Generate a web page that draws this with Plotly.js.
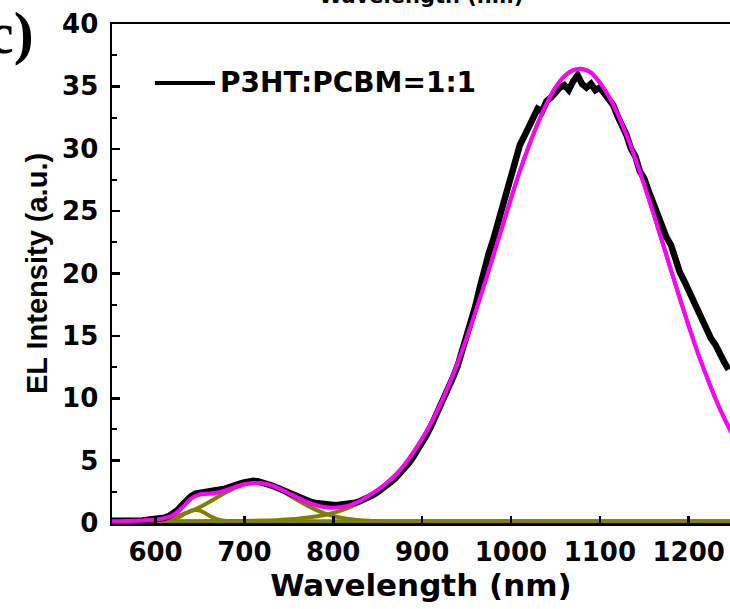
<!DOCTYPE html>
<html><head><meta charset="utf-8">
<script src="https://cdn.plot.ly/plotly-3.0.1.min.js"></script>
<style>html,body{margin:0;padding:0;background:#fff;overflow:hidden}</style>
</head><body><div id="chart" style="width:730px;height:609px"></div>
<script>
// Experimental EL spectrum (black), 5 nm steps
const wlExp = [];
for (let w = 550; w <= 1245; w += 5) wlExp.push(w);
const elExp = [0.18,0.16,0.17,0.15,0.18,0.17,0.19,0.2,0.22,0.24,
0.28,0.33,0.42,0.55,0.75,1.05,1.45,1.85,2.15,2.35,
2.4,2.42,2.45,2.5,2.58,2.7,2.8,2.95,3.05,3.15,
3.25,3.33,3.38,3.35,3.27,3.15,3.02,2.88,2.72,2.54,
2.36,2.2,2.04,1.9,1.78,1.68,1.6,1.53,1.48,1.45,
1.44,1.45,1.47,1.5,1.55,1.63,1.74,1.88,2.05,2.25,
2.48,2.72,2.98,3.28,3.6,3.95,4.35,4.8,5.3,5.85,
6.42,7.05,7.75,8.5,9.2,10.0,10.9,11.7,12.6,13.7,
14.8,16.0,17.4,18.9,20.4,21.6,22.7,24.0,25.2,26.7,
27.9,29.3,30.3,31.0,31.8,32.7,33.2,33.0,33.8,34.1,
34.6,34.9,35.1,34.7,35.4,35.9,35.2,34.9,35.2,34.7,
34.9,34.4,33.8,33.5,32.6,31.9,31.1,30.0,29.4,28.2,
27.6,26.6,25.7,24.5,23.9,22.9,22.3,21.0,20.1,19.4,
18.6,17.8,17.1,16.3,15.6,14.8,14.3,13.5,12.9,12.3];

// Cumulative fit (magenta), 10 nm steps
const wlFit = [];
for (let w = 550; w <= 1250; w += 10) wlFit.push(w);
const elFit = [0.15,0.15,0.17,0.18,0.22,0.27,0.39,0.65,1.22,1.95,
2.30,2.35,2.45,2.65,2.90,3.10,3.20,3.18,3.03,2.74,
2.39,2.03,1.70,1.44,1.28,1.23,1.29,1.46,1.76,2.20,
2.65,3.20,3.85,4.65,5.65,6.75,8.00,9.45,11.05,12.85,
14.8,16.9,19.1,21.4,23.7,26.0,28.2,30.2,32.0,33.6,
34.9,35.8,36.3,36.4,36.1,35.3,34.2,32.8,31.1,29.2,
27.1,24.9,22.6,20.3,18.0,15.8,13.7,11.8,10.0,8.4,
7.0];

// Gaussian components (olive)
const wlPk1 = [550,600,610,615,620,625,630,635,640,645,650,655,660,665,670,675,680,690,700,1250];
const elPk1 = [0.15,0.15,0.17,0.21,0.29,0.43,0.61,0.82,0.99,1.05,0.99,0.82,0.61,0.43,0.29,0.21,0.17,0.15,0.15,0.15];

const wlPk2 = [550,560,570,580,590,600,610,620,630,640,650,660,670,680,690,700,710,720,730,740,750,760,770,780,790,800,810,820,830,840,850,870,1250];
const elPk2 = [0.15,0.15,0.17,0.18,0.22,0.27,0.36,0.49,0.69,0.95,1.28,1.67,2.08,2.49,2.84,3.09,3.20,3.15,2.96,2.64,2.25,1.83,1.43,1.07,0.78,0.56,0.41,0.30,0.23,0.19,0.17,0.15,0.15];

const wlPk3 = [550,700,720,740,760,780,790,800,810,820,830,840,850,
860,870,880,890,900,910,920,930,940,950,960,970,980,990,1000,1010,1020,1030,1040,
1050,1060,1070,1080,1090,1100,1110,1120,1130,1140,1150,1160,1170,1180,1190,1200,1210,1220,1230,1240,1250];
const elPk3 = [0.15,0.17,0.2,0.25,0.34,0.52,0.64,0.81,1.03,1.31,1.66,2.14,2.62,
3.19,3.85,4.65,5.65,6.75,8.00,9.45,11.05,12.85,14.8,16.9,19.1,21.4,23.7,26.0,28.2,30.2,32.0,33.6,
34.9,35.8,36.3,36.4,36.1,35.3,34.2,32.8,31.1,29.2,27.1,24.9,22.6,20.3,18.0,15.8,13.7,11.8,10.0,8.4,7.0];

const xTicks = [600,700,800,900,1000,1100,1200];
const yTicks = [0,5,10,15,20,25,30,35,40];
const legendLabel = 'P3HT:PCBM=1:1';

const OLIVE = '#808000';
const traces = [
  {x: wlPk1, y: elPk1, mode:'lines', line:{color:OLIVE, width:4, shape:'spline'}, showlegend:false, hoverinfo:'skip'},
  {x: wlPk2, y: elPk2, mode:'lines', line:{color:OLIVE, width:4, shape:'spline'}, showlegend:false, hoverinfo:'skip'},
  {x: wlPk3, y: elPk3, mode:'lines', line:{color:OLIVE, width:4, shape:'spline'}, showlegend:false, hoverinfo:'skip'},
  {x: wlExp, y: elExp, mode:'lines', name: legendLabel, line:{color:'#000000', width:6.5}, showlegend:false},
  {x: wlFit, y: elFit, mode:'lines', line:{color:'#FF00FF', width:4, shape:'spline'}, showlegend:false}
];

const hFont = {family:'DejaVu Sans, Arial, sans-serif', size:26, color:'#000', weight:700};
const L = 112, W = 730, T = 24, B = 523.5, H = 609;
const pw = W - L, ph = B - T;
function px(xp){ return (xp - L)/pw; }
function py(yp){ return (B - yp)/ph; }

const layout = {
  width: W, height: H,
  margin: {l: L, r: 0, t: T, b: H - B, pad: 0},
  paper_bgcolor:'#fff', plot_bgcolor:'#fff',
  showlegend:false,
  xaxis: {
    range:[551, 1246.5], tickmode:'array', tickvals:xTicks, ticktext:xTicks.map(String),
    ticks:'inside', ticklen:7, tickwidth:2.5, tickcolor:'#000',
    showline:true, linewidth:2.5, linecolor:'#000', mirror:true,
    showgrid:false, zeroline:false, tickfont:hFont, ticklabelstandoff:4,
    title:{text:'Wavelength (nm)', font:{family:'DejaVu Sans, Arial, sans-serif', size:31, color:'#000', weight:700}, standoff:4}
  },
  yaxis: {
    range:[0,40], tickmode:'array', tickvals:yTicks, ticktext:yTicks.map(String),
    ticks:'inside', ticklen:8, tickwidth:2.5, tickcolor:'#000',
    minor:{tickmode:'linear', tick0:0, dtick:2.5, ticks:'inside', ticklen:5, tickwidth:2, tickcolor:'#000'},
    showline:true, linewidth:2.5, linecolor:'#000', mirror:false,
    showgrid:false, zeroline:false, tickfont:hFont, ticklabelstandoff:6,
    title:{text:'EL Intensity (a.u.)', font:{family:'Liberation Sans, Arial, sans-serif', size:29, color:'#000', weight:700}, standoff:6}
  },
  shapes: [
    {type:'line', xref:'paper', yref:'paper', x0:px(155), x1:px(215), y0:py(83), y1:py(83), line:{color:'#000', width:4}}
  ],
  annotations: [
    {xref:'paper', yref:'paper', x:px(218), y:py(83), xanchor:'left', yanchor:'middle', showarrow:false,
     text:legendLabel, font:{family:'DejaVu Sans, Arial, sans-serif', size:28, color:'#000', weight:700}},
    {xref:'paper', yref:'paper', x:px(36), y:py(33), xanchor:'right', yanchor:'middle', showarrow:false,
     text:'c)', font:{family:'Liberation Serif, Times New Roman, serif', size:60, color:'#000', weight:700}},
    {xref:'paper', yref:'paper', x:px(421), y:py(10), xanchor:'center', yanchor:'bottom', showarrow:false,
     text:'Wavelength (nm)', font:{family:'DejaVu Sans, Arial, sans-serif', size:21, color:'#000', weight:700}}
  ]
};

Plotly.newPlot('chart', traces, layout, {displayModeBar:false, staticPlot:true});
</script>
</body></html>
